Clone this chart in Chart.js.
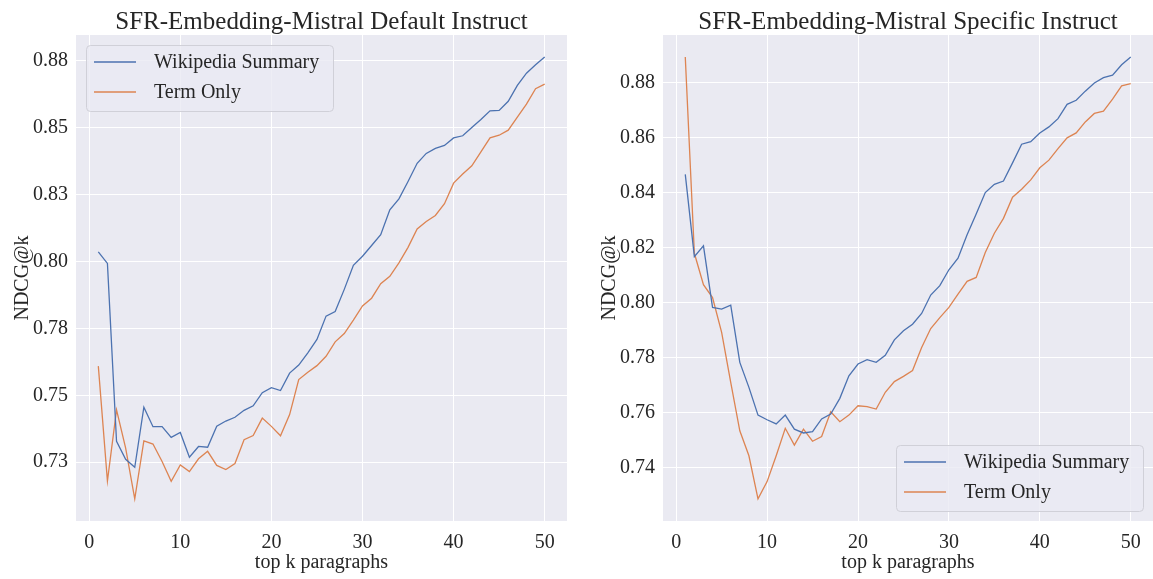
<!DOCTYPE html>
<html>
<head>
<meta charset="utf-8">
<script src="https://cdn.jsdelivr.net/npm/chart.js@4.4.1/dist/chart.umd.min.js"></script>
<style>
  html, body { margin: 0; padding: 0; background: #fff; }
  #left { position: absolute; left: 0; top: 0; }
  #right { position: absolute; left: 587px; top: 0; }
</style>
</head>
<body>
<canvas id="left" width="575" height="579"></canvas>
<canvas id="right" width="566" height="579"></canvas>
<script>
  const topK = [1, 2, 3, 4, 5, 6, 7, 8, 9, 10, 11, 12, 13, 14, 15, 16, 17, 18, 19, 20,
    21, 22, 23, 24, 25, 26, 27, 28, 29, 30, 31, 32, 33, 34, 35, 36, 37, 38, 39, 40,
    41, 42, 43, 44, 45, 46, 47, 48, 49, 50];
  const xTicks = [0, 10, 20, 30, 40, 50];
  const seriesNames = ['Wikipedia Summary', 'Term Only'];
  const titles = ['SFR-Embedding-Mistral Default Instruct', 'SFR-Embedding-Mistral Specific Instruct'];

  // default instruct
  const defaultWiki = [0.8036, 0.7993, 0.7328, 0.7261, 0.7231, 0.7456, 0.7383, 0.7383, 0.7343, 0.7361,
    0.7269, 0.7309, 0.7306, 0.7385, 0.7404, 0.7418, 0.7444, 0.7461, 0.7510, 0.7529,
    0.7518, 0.7583, 0.7613, 0.7659, 0.7709, 0.7796, 0.7813, 0.7896, 0.7986, 0.8020,
    0.8060, 0.8100, 0.8193, 0.8234, 0.8299, 0.8367, 0.8404, 0.8423, 0.8434, 0.8462,
    0.8470, 0.8501, 0.8531, 0.8563, 0.8565, 0.8599, 0.8658, 0.8704, 0.8735, 0.8764];
  const defaultTerm = [0.7609, 0.7180, 0.7446, 0.7303, 0.7113, 0.7330, 0.7318, 0.7253, 0.7179, 0.7240,
    0.7215, 0.7263, 0.7291, 0.7238, 0.7223, 0.7245, 0.7334, 0.7350, 0.7415, 0.7384,
    0.7349, 0.7428, 0.7559, 0.7586, 0.7611, 0.7646, 0.7700, 0.7731, 0.7781, 0.7834,
    0.7863, 0.7917, 0.7945, 0.7995, 0.8053, 0.8122, 0.8150, 0.8172, 0.8216, 0.8293,
    0.8327, 0.8358, 0.8410, 0.8462, 0.8472, 0.8491, 0.8540, 0.8588, 0.8646, 0.8663];
  const defaultYTicks = [0.725, 0.75, 0.775, 0.8, 0.825, 0.85, 0.875];
  const defaultYLabels = ['0.73', '0.75', '0.78', '0.80', '0.83', '0.85', '0.88'];

  // specific instruct
  const specificWiki = [0.8466, 0.8167, 0.8206, 0.7982, 0.7976, 0.7990, 0.7782, 0.7691, 0.7590, 0.7573,
    0.7558, 0.7590, 0.7539, 0.7525, 0.7530, 0.7576, 0.7594, 0.7651, 0.7733, 0.7776,
    0.7792, 0.7782, 0.7808, 0.7864, 0.7897, 0.7921, 0.7960, 0.8027, 0.8061, 0.8119,
    0.8161, 0.8246, 0.8322, 0.8400, 0.8430, 0.8442, 0.8508, 0.8576, 0.8585, 0.8617,
    0.8639, 0.8669, 0.8721, 0.8736, 0.8769, 0.8799, 0.8818, 0.8827, 0.8865, 0.8893];
  const specificTerm = [0.8893, 0.8179, 0.8065, 0.8018, 0.7891, 0.7709, 0.7533, 0.7442, 0.7285, 0.7348,
    0.7442, 0.7542, 0.7481, 0.7539, 0.7495, 0.7512, 0.7602, 0.7566, 0.7590, 0.7624,
    0.7621, 0.7612, 0.7673, 0.7712, 0.7731, 0.7752, 0.7836, 0.7905, 0.7945, 0.7982,
    0.8030, 0.8077, 0.8091, 0.8182, 0.8252, 0.8306, 0.8383, 0.8412, 0.8446, 0.8490,
    0.8518, 0.8560, 0.8599, 0.8617, 0.8657, 0.8688, 0.8696, 0.8740, 0.8788, 0.8796];
  const specificYTicks = [0.74, 0.76, 0.78, 0.80, 0.82, 0.84, 0.86, 0.88];
  const specificYLabels = ['0.74', '0.76', '0.78', '0.80', '0.82', '0.84', '0.86', '0.88'];

  const serif = "'Liberation Serif', 'DejaVu Serif', serif";
  const ink = '#262626';
  const colors = ['#4C72B0', '#DD8452'];

  // seaborn style panel behind the grid
  const plotBg = {
    id: 'plotBg',
    beforeDraw(chart) {
      const { ctx, chartArea: a } = chart;
      ctx.save();
      ctx.fillStyle = '#EAEAF2';
      ctx.fillRect(a.left, a.top, a.right - a.left, a.bottom - a.top);
      ctx.restore();
    }
  };

  // title centred over the axes, like matplotlib
  const axesTitle = {
    id: 'axesTitle',
    afterDraw(chart, args, opts) {
      const { ctx, chartArea: a } = chart;
      ctx.save();
      ctx.font = '25px ' + serif;
      ctx.fillStyle = ink;
      ctx.textAlign = 'center';
      ctx.textBaseline = 'alphabetic';
      ctx.fillText(opts.text, (a.left + a.right) / 2, 29);
      ctx.restore();
    }
  };

  // matplotlib-like legend box inside the axes
  const boxLegend = {
    id: 'boxLegend',
    afterDraw(chart, args, opts) {
      const { ctx, chartArea: a } = chart;
      const sets = chart.data.datasets;
      ctx.save();
      ctx.font = '20px ' + serif;
      const textW = Math.max(...sets.map(d => ctx.measureText(d.label).width));
      const w = Math.round(8 + 42 + 18 + textW + 14);
      const h = 66;
      const x = opts.corner === 'tl' ? a.left + 10 : a.right - 10 - w;
      const y = opts.corner === 'tl' ? a.top + 10 : a.bottom - 10 - h;
      ctx.beginPath();
      ctx.roundRect(x + 0.5, y + 0.5, w, h, 4);
      ctx.fillStyle = 'rgba(234,234,242,0.8)';
      ctx.fill();
      ctx.strokeStyle = '#d0d0d8';
      ctx.lineWidth = 1;
      ctx.stroke();
      sets.forEach((d, i) => {
        const cy = y + 17 + i * 30;
        ctx.beginPath();
        ctx.moveTo(x + 8, cy);
        ctx.lineTo(x + 50, cy);
        ctx.strokeStyle = d.borderColor;
        ctx.lineWidth = 1.3;
        ctx.stroke();
        ctx.fillStyle = ink;
        ctx.textBaseline = 'middle';
        ctx.fillText(d.label, x + 68, cy + 1);
      });
      ctx.restore();
    }
  };

  function paddedRange(arrays) {
    const all = [].concat(...arrays);
    const lo = Math.min(...all), hi = Math.max(...all);
    const m = (hi - lo) * 0.05;
    return [lo - m, hi + m];
  }

  function makeChart(id, title, wiki, term, yTicks, yLabels, corner) {
    const [yMin, yMax] = paddedRange([wiki, term]);
    return new Chart(document.getElementById(id), {
      type: 'line',
      data: {
        labels: topK,
        datasets: [
          { label: seriesNames[0], data: wiki, borderColor: colors[0], borderWidth: 1.3, pointRadius: 0, tension: 0 },
          { label: seriesNames[1], data: term, borderColor: colors[1], borderWidth: 1.3, pointRadius: 0, tension: 0 }
        ]
      },
      options: {
        responsive: false,
        animation: false,
        layout: { padding: { left: 0, right: corner === 'tl' ? 8 : 0, top: 35, bottom: 0 } },
        plugins: {
          legend: { display: false },
          tooltip: { enabled: false },
          title: { display: false },
          axesTitle: { text: title },
          boxLegend: { corner: corner }
        },
        scales: {
          x: {
            type: 'linear',
            min: -1.45,
            max: 52.45,
            afterBuildTicks: s => { s.ticks = xTicks.map(v => ({ value: v })); },
            afterFit: s => { s.height = 58; },
            grid: { color: '#ffffff', lineWidth: 1, drawTicks: false },
            border: { display: false },
            ticks: { color: ink, padding: 10, font: { family: serif, size: 20 } },
            title: {
              display: true,
              text: 'top k paragraphs',
              color: ink,
              font: { family: serif, size: 20 },
              padding: { top: 0, bottom: 4 }
            }
          },
          y: {
            min: yMin,
            max: yMax,
            afterBuildTicks: s => { s.ticks = yTicks.map(v => ({ value: v })); },
            afterFit: s => { s.width = 76; },
            grid: { color: '#ffffff', lineWidth: 1, drawTicks: false },
            border: { display: false },
            ticks: {
              color: ink,
              padding: 8,
              font: { family: serif, size: 20 },
              callback: (v, i) => yLabels[i]
            },
            title: {
              display: true,
              text: 'NDCG@k',
              color: ink,
              font: { family: serif, size: 20 },
              padding: { top: 11, bottom: 0 }
            }
          }
        }
      },
      plugins: [plotBg, axesTitle, boxLegend]
    });
  }

  makeChart('left', titles[0], defaultWiki, defaultTerm, defaultYTicks, defaultYLabels, 'tl');
  makeChart('right', titles[1], specificWiki, specificTerm, specificYTicks, specificYLabels, 'br');
</script>
</body>
</html>
